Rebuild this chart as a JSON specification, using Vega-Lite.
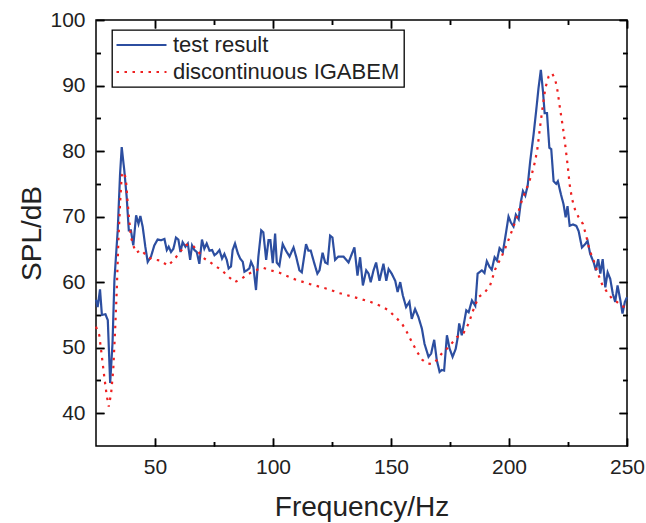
{
"$schema":"https://vega.github.io/schema/vega-lite/v6.json",
"width":531,"height":426,
"autosize":{"type":"none"},
"padding":{"left":96,"top":20,"right":19,"bottom":77},
"background":"white",
"data":{"values":[
{"s":"test result","f":25,"spl":57.3},{"s":"test result","f":25.7,"spl":56.2},{"s":"test result","f":26.7,"spl":58.9},{"s":"test result","f":27.5,"spl":55},{"s":"test result","f":29,"spl":55.1},{"s":"test result","f":30,"spl":54.2},{"s":"test result","f":31,"spl":44.6},{"s":"test result","f":32,"spl":50.7},{"s":"test result","f":32.8,"spl":60.3},{"s":"test result","f":34.2,"spl":67.9},{"s":"test result","f":35.2,"spl":76.5},{"s":"test result","f":35.9,"spl":80.6},{"s":"test result","f":37,"spl":77},{"s":"test result","f":38,"spl":73},{"s":"test result","f":38.9,"spl":67.9},{"s":"test result","f":39.8,"spl":67.9},{"s":"test result","f":40.8,"spl":65.6},{"s":"test result","f":42,"spl":70.2},{"s":"test result","f":43,"spl":68.9},{"s":"test result","f":43.8,"spl":70.1},{"s":"test result","f":44.8,"spl":68.4},{"s":"test result","f":45.9,"spl":65.4},{"s":"test result","f":46.9,"spl":63.1},{"s":"test result","f":48.3,"spl":63.9},{"s":"test result","f":49.7,"spl":65.6},{"s":"test result","f":51.1,"spl":66.5},{"s":"test result","f":52.6,"spl":66.4},{"s":"test result","f":54,"spl":66.6},{"s":"test result","f":55,"spl":64.9},{"s":"test result","f":55.8,"spl":65.4},{"s":"test result","f":56.8,"spl":64.6},{"s":"test result","f":57.8,"spl":65.1},{"s":"test result","f":58.9,"spl":66.8},{"s":"test result","f":59.9,"spl":66.5},{"s":"test result","f":60.8,"spl":64.6},{"s":"test result","f":61.7,"spl":66.1},{"s":"test result","f":62.9,"spl":65.4},{"s":"test result","f":63.9,"spl":65.9},{"s":"test result","f":64.9,"spl":63.4},{"s":"test result","f":65.7,"spl":65.6},{"s":"test result","f":66.7,"spl":64.9},{"s":"test result","f":67.7,"spl":64.6},{"s":"test result","f":68.8,"spl":62.8},{"s":"test result","f":69.9,"spl":66.5},{"s":"test result","f":70.9,"spl":65.1},{"s":"test result","f":71.9,"spl":65.9},{"s":"test result","f":73.1,"spl":64.8},{"s":"test result","f":74.2,"spl":64.9},{"s":"test result","f":75.2,"spl":64.1},{"s":"test result","f":76.2,"spl":64.4},{"s":"test result","f":77.3,"spl":64.9},{"s":"test result","f":78.4,"spl":63.6},{"s":"test result","f":79.4,"spl":64.3},{"s":"test result","f":80.4,"spl":63.4},{"s":"test result","f":81.2,"spl":62.1},{"s":"test result","f":82.2,"spl":62.4},{"s":"test result","f":82.9,"spl":64.9},{"s":"test result","f":83.9,"spl":65.9},{"s":"test result","f":85.1,"spl":64.4},{"s":"test result","f":86.1,"spl":63.6},{"s":"test result","f":87.2,"spl":63.1},{"s":"test result","f":87.9,"spl":61.6},{"s":"test result","f":88.9,"spl":61.8},{"s":"test result","f":90,"spl":62.1},{"s":"test result","f":90.7,"spl":63.1},{"s":"test result","f":91.7,"spl":62.3},{"s":"test result","f":92.8,"spl":58.8},{"s":"test result","f":93.8,"spl":63.9},{"s":"test result","f":95,"spl":67.9},{"s":"test result","f":95.9,"spl":67.6},{"s":"test result","f":97.1,"spl":63.4},{"s":"test result","f":98.1,"spl":66.4},{"s":"test result","f":98.9,"spl":66.4},{"s":"test result","f":99.9,"spl":62.9},{"s":"test result","f":100.9,"spl":67.4},{"s":"test result","f":101.6,"spl":63},{"s":"test result","f":102.7,"spl":62.5},{"s":"test result","f":104.1,"spl":65.8},{"s":"test result","f":105.5,"spl":64.8},{"s":"test result","f":107,"spl":63.9},{"s":"test result","f":108.7,"spl":65.3},{"s":"test result","f":109.8,"spl":63.9},{"s":"test result","f":111.2,"spl":61.8},{"s":"test result","f":112.2,"spl":61.5},{"s":"test result","f":114,"spl":65.8},{"s":"test result","f":115,"spl":64.8},{"s":"test result","f":116,"spl":64.8},{"s":"test result","f":117.4,"spl":63},{"s":"test result","f":118.8,"spl":61.3},{"s":"test result","f":119.7,"spl":61.8},{"s":"test result","f":121,"spl":64.5},{"s":"test result","f":122.1,"spl":63},{"s":"test result","f":123.1,"spl":62.8},{"s":"test result","f":124.2,"spl":67.1},{"s":"test result","f":125.2,"spl":66.8},{"s":"test result","f":126.3,"spl":63.4},{"s":"test result","f":127.7,"spl":63.9},{"s":"test result","f":129.9,"spl":63.9},{"s":"test result","f":132,"spl":63},{"s":"test result","f":133.4,"spl":64.3},{"s":"test result","f":134.5,"spl":65.3},{"s":"test result","f":135.8,"spl":61},{"s":"test result","f":136.9,"spl":63.8},{"s":"test result","f":138.1,"spl":59.5},{"s":"test result","f":139.5,"spl":61.8},{"s":"test result","f":140.5,"spl":61.3},{"s":"test result","f":141.4,"spl":60},{"s":"test result","f":142.6,"spl":61.8},{"s":"test result","f":143.7,"spl":63},{"s":"test result","f":145.1,"spl":60.2},{"s":"test result","f":146.8,"spl":62.8},{"s":"test result","f":148,"spl":60.2},{"s":"test result","f":149,"spl":62},{"s":"test result","f":150.3,"spl":61.3},{"s":"test result","f":151.8,"spl":60.2},{"s":"test result","f":152.8,"spl":58.5},{"s":"test result","f":153.9,"spl":60},{"s":"test result","f":155,"spl":58},{"s":"test result","f":156.4,"spl":56.2},{"s":"test result","f":157.8,"spl":57},{"s":"test result","f":158.8,"spl":54.4},{"s":"test result","f":160.2,"spl":55.9},{"s":"test result","f":161.6,"spl":54.7},{"s":"test result","f":163.1,"spl":52.9},{"s":"test result","f":164.2,"spl":50.6},{"s":"test result","f":165.9,"spl":48.6},{"s":"test result","f":167,"spl":49.1},{"s":"test result","f":168.3,"spl":51.2},{"s":"test result","f":169.4,"spl":48.1},{"s":"test result","f":170.6,"spl":46.3},{"s":"test result","f":171.5,"spl":46.6},{"s":"test result","f":172.5,"spl":46.5},{"s":"test result","f":173.7,"spl":51.9},{"s":"test result","f":174.8,"spl":49.9},{"s":"test result","f":176.1,"spl":48.6},{"s":"test result","f":177.4,"spl":49.8},{"s":"test result","f":178.2,"spl":51.4},{"s":"test result","f":178.9,"spl":53.7},{"s":"test result","f":180,"spl":51.9},{"s":"test result","f":181.9,"spl":55.7},{"s":"test result","f":182.9,"spl":55.4},{"s":"test result","f":184.3,"spl":57.2},{"s":"test result","f":185.7,"spl":56.4},{"s":"test result","f":186.7,"spl":61.3},{"s":"test result","f":188.5,"spl":61.8},{"s":"test result","f":189.6,"spl":61.4},{"s":"test result","f":190.6,"spl":63.2},{"s":"test result","f":191.8,"spl":62.3},{"s":"test result","f":192.7,"spl":61.9},{"s":"test result","f":193.9,"spl":63.8},{"s":"test result","f":194.9,"spl":63.3},{"s":"test result","f":196,"spl":65.2},{"s":"test result","f":197.4,"spl":64.6},{"s":"test result","f":198.4,"spl":66.8},{"s":"test result","f":199.8,"spl":70},{"s":"test result","f":200.8,"spl":69.1},{"s":"test result","f":201.9,"spl":68.5},{"s":"test result","f":202.9,"spl":70.3},{"s":"test result","f":204.1,"spl":69.6},{"s":"test result","f":205,"spl":72.2},{"s":"test result","f":205.9,"spl":73.9},{"s":"test result","f":206.9,"spl":73.2},{"s":"test result","f":207.9,"spl":74.7},{"s":"test result","f":209,"spl":78.5},{"s":"test result","f":210.4,"spl":82.5},{"s":"test result","f":211.5,"spl":86.1},{"s":"test result","f":212.5,"spl":89.6},{"s":"test result","f":213.5,"spl":92.4},{"s":"test result","f":214.4,"spl":89.1},{"s":"test result","f":215.1,"spl":85.8},{"s":"test result","f":216.1,"spl":85.8},{"s":"test result","f":217.1,"spl":80.5},{"s":"test result","f":217.9,"spl":80.3},{"s":"test result","f":218.9,"spl":75.4},{"s":"test result","f":220,"spl":75},{"s":"test result","f":220.7,"spl":75.4},{"s":"test result","f":222,"spl":73.4},{"s":"test result","f":223.1,"spl":71.9},{"s":"test result","f":224,"spl":69.9},{"s":"test result","f":224.8,"spl":71.6},{"s":"test result","f":225.7,"spl":68.6},{"s":"test result","f":227.1,"spl":68.8},{"s":"test result","f":228.5,"spl":68.6},{"s":"test result","f":229.5,"spl":67.8},{"s":"test result","f":230.9,"spl":65.3},{"s":"test result","f":232.3,"spl":65.8},{"s":"test result","f":233.3,"spl":66.3},{"s":"test result","f":234.4,"spl":64.3},{"s":"test result","f":235.9,"spl":63},{"s":"test result","f":236.8,"spl":61.8},{"s":"test result","f":237.8,"spl":63.5},{"s":"test result","f":238.7,"spl":61.3},{"s":"test result","f":239.7,"spl":63.5},{"s":"test result","f":240.8,"spl":59.2},{"s":"test result","f":241.8,"spl":61.5},{"s":"test result","f":242.9,"spl":60.5},{"s":"test result","f":244,"spl":58.2},{"s":"test result","f":245,"spl":57},{"s":"test result","f":246,"spl":59.5},{"s":"test result","f":247.2,"spl":57.2},{"s":"test result","f":248.1,"spl":55.2},{"s":"test result","f":249.1,"spl":57},{"s":"test result","f":250,"spl":57.7},
{"s":"discontinuous IGABEM","f":25,"spl":53.2},{"s":"discontinuous IGABEM","f":26.4,"spl":51.9},{"s":"discontinuous IGABEM","f":27.5,"spl":48.6},{"s":"discontinuous IGABEM","f":28.5,"spl":45.6},{"s":"discontinuous IGABEM","f":29.5,"spl":42.8},{"s":"discontinuous IGABEM","f":30.4,"spl":41},{"s":"discontinuous IGABEM","f":31.4,"spl":43},{"s":"discontinuous IGABEM","f":32.3,"spl":46.6},{"s":"discontinuous IGABEM","f":33.1,"spl":52.7},{"s":"discontinuous IGABEM","f":33.8,"spl":58.8},{"s":"discontinuous IGABEM","f":34.5,"spl":66.4},{"s":"discontinuous IGABEM","f":35.2,"spl":72},{"s":"discontinuous IGABEM","f":35.9,"spl":76.3},{"s":"discontinuous IGABEM","f":37,"spl":76.8},{"s":"discontinuous IGABEM","f":37.7,"spl":75.5},{"s":"discontinuous IGABEM","f":38.4,"spl":72.2},{"s":"discontinuous IGABEM","f":39.1,"spl":69.4},{"s":"discontinuous IGABEM","f":39.8,"spl":66.9},{"s":"discontinuous IGABEM","f":40.8,"spl":65.6},{"s":"discontinuous IGABEM","f":42,"spl":64.5},{"s":"discontinuous IGABEM","f":44.2,"spl":64.9},{"s":"discontinuous IGABEM","f":46.2,"spl":64.1},{"s":"discontinuous IGABEM","f":48.6,"spl":63.5},{"s":"discontinuous IGABEM","f":52.3,"spl":63.3},{"s":"discontinuous IGABEM","f":55.5,"spl":62.5},{"s":"discontinuous IGABEM","f":58.3,"spl":63.5},{"s":"discontinuous IGABEM","f":60.5,"spl":64.6},{"s":"discontinuous IGABEM","f":63.3,"spl":65.7},{"s":"discontinuous IGABEM","f":66,"spl":65.6},{"s":"discontinuous IGABEM","f":68,"spl":64.8},{"s":"discontinuous IGABEM","f":70.5,"spl":63.7},{"s":"discontinuous IGABEM","f":73.1,"spl":63.1},{"s":"discontinuous IGABEM","f":75.8,"spl":62.4},{"s":"discontinuous IGABEM","f":78.4,"spl":61.8},{"s":"discontinuous IGABEM","f":80.6,"spl":61},{"s":"discontinuous IGABEM","f":83.8,"spl":60},{"s":"discontinuous IGABEM","f":87,"spl":60.6},{"s":"discontinuous IGABEM","f":89.3,"spl":61.2},{"s":"discontinuous IGABEM","f":92.5,"spl":61.8},{"s":"discontinuous IGABEM","f":95.8,"spl":62.2},{"s":"discontinuous IGABEM","f":99.1,"spl":61.8},{"s":"discontinuous IGABEM","f":103,"spl":61.4},{"s":"discontinuous IGABEM","f":108.7,"spl":60.5},{"s":"discontinuous IGABEM","f":115.7,"spl":59.7},{"s":"discontinuous IGABEM","f":122.8,"spl":59},{"s":"discontinuous IGABEM","f":128.4,"spl":58.3},{"s":"discontinuous IGABEM","f":135.5,"spl":57.6},{"s":"discontinuous IGABEM","f":141.2,"spl":57},{"s":"discontinuous IGABEM","f":145.4,"spl":56.4},{"s":"discontinuous IGABEM","f":149,"spl":55.7},{"s":"discontinuous IGABEM","f":151.8,"spl":54.7},{"s":"discontinuous IGABEM","f":154.6,"spl":53.7},{"s":"discontinuous IGABEM","f":156.7,"spl":52.4},{"s":"discontinuous IGABEM","f":158.8,"spl":50.9},{"s":"discontinuous IGABEM","f":161,"spl":49.4},{"s":"discontinuous IGABEM","f":163.1,"spl":48.2},{"s":"discontinuous IGABEM","f":165.2,"spl":47.6},{"s":"discontinuous IGABEM","f":167.3,"spl":47.5},{"s":"discontinuous IGABEM","f":169.4,"spl":48.1},{"s":"discontinuous IGABEM","f":171.5,"spl":49.1},{"s":"discontinuous IGABEM","f":174.4,"spl":50.1},{"s":"discontinuous IGABEM","f":177.9,"spl":51.6},{"s":"discontinuous IGABEM","f":180.7,"spl":52.2},{"s":"discontinuous IGABEM","f":182.9,"spl":53.7},{"s":"discontinuous IGABEM","f":185,"spl":55.9},{"s":"discontinuous IGABEM","f":187.1,"spl":57.7},{"s":"discontinuous IGABEM","f":189.9,"spl":58.5},{"s":"discontinuous IGABEM","f":192,"spl":59.5},{"s":"discontinuous IGABEM","f":194.2,"spl":62},{"s":"discontinuous IGABEM","f":197,"spl":64},{"s":"discontinuous IGABEM","f":199.1,"spl":65.8},{"s":"discontinuous IGABEM","f":201.2,"spl":67.8},{"s":"discontinuous IGABEM","f":203.3,"spl":69.9},{"s":"discontinuous IGABEM","f":205.5,"spl":72.5},{"s":"discontinuous IGABEM","f":207.6,"spl":74.4},{"s":"discontinuous IGABEM","f":209.7,"spl":76.5},{"s":"discontinuous IGABEM","f":211.1,"spl":78.5},{"s":"discontinuous IGABEM","f":212.1,"spl":80.5},{"s":"discontinuous IGABEM","f":213.2,"spl":83.8},{"s":"discontinuous IGABEM","f":214.4,"spl":87.1},{"s":"discontinuous IGABEM","f":215.4,"spl":89.6},{"s":"discontinuous IGABEM","f":216.8,"spl":91.4},{"s":"discontinuous IGABEM","f":218.2,"spl":91.9},{"s":"discontinuous IGABEM","f":219.6,"spl":90.9},{"s":"discontinuous IGABEM","f":220.6,"spl":89.1},{"s":"discontinuous IGABEM","f":221.7,"spl":86.3},{"s":"discontinuous IGABEM","f":222.9,"spl":83.5},{"s":"discontinuous IGABEM","f":223.8,"spl":81},{"s":"discontinuous IGABEM","f":224.8,"spl":78},{"s":"discontinuous IGABEM","f":225.7,"spl":74.9},{"s":"discontinuous IGABEM","f":226.7,"spl":72.7},{"s":"discontinuous IGABEM","f":228.1,"spl":70.9},{"s":"discontinuous IGABEM","f":229.5,"spl":69.9},{"s":"discontinuous IGABEM","f":231.3,"spl":68.9},{"s":"discontinuous IGABEM","f":232.7,"spl":67.1},{"s":"discontinuous IGABEM","f":234.2,"spl":64.8},{"s":"discontinuous IGABEM","f":235.9,"spl":63.3},{"s":"discontinuous IGABEM","f":237.5,"spl":61.5},{"s":"discontinuous IGABEM","f":239.4,"spl":59.7},{"s":"discontinuous IGABEM","f":241.5,"spl":58.5},{"s":"discontinuous IGABEM","f":243.6,"spl":57.5},{"s":"discontinuous IGABEM","f":245.7,"spl":57},{"s":"discontinuous IGABEM","f":247.9,"spl":56.3},{"s":"discontinuous IGABEM","f":249.3,"spl":56.2}
]},
"config":{
"view":{"stroke":"#000","strokeWidth":1.5},
"axis":{"domain":false,"labelFont":"Liberation Sans","labelFontSize":21,"labelColor":"#222","titleFont":"Liberation Sans","titleFontSize":28,"titleColor":"#222","titleFontWeight":"normal"},
"legend":{"orient":"none","legendX":16,"legendY":10,"strokeColor":"#000","strokeWidth":1.3,"fillColor":"white","padding":4,"rowPadding":5,"symbolType":"M-2.5,0H2.5","symbolSize":400,"symbolStrokeWidth":2,"symbolOffset":14.5,"labelOffset":20.5,"labelFont":"Liberation Sans","labelFontSize":22,"labelColor":"#222","labelLimit":400}
},
"resolve":{"axis":{"x":"independent","y":"independent"}},
"layer":[
{"mark":{"type":"line","strokeWidth":2.2},
 "encoding":{
  "x":{"field":"f","type":"quantitative","scale":{"domain":[25,250],"nice":false,"zero":false},
   "axis":{"orient":"bottom","values":[50,75,100,125,150,175,200,225,250],"grid":true,"gridColor":"#000","gridWidth":1.5,"gridOpacity":1,"gridDash":{"condition":{"test":"datum.value % 50 === 0","value":[8,410,8,2000]},"value":[4.5,417,4.5,2000]},"ticks":true,"tickColor":"#000","tickWidth":1.5,"tickSize":{"condition":{"test":"datum.value % 50 === 0","value":-8},"value":-4.5},"labelExpr":"datum.value % 50 === 0 ? datum.label : ''","labelPadding":35,"labelBaseline":"alphabetic","labelFlush":false,"title":"Frequency/Hz","titleX":265.5,"titleY":69,"titleBaseline":"alphabetic"}},
  "y":{"field":"spl","type":"quantitative","scale":{"domain":[35,100],"nice":false,"zero":false},
   "axis":{"orient":"left","values":[40,45,50,55,60,65,70,75,80,85,90,95,100],"grid":true,"gridColor":"#000","gridWidth":1.5,"gridOpacity":1,"gridDash":{"condition":{"test":"datum.value % 10 === 0","value":[8,515,8,2000]},"value":[4.5,522,4.5,2000]},"ticks":true,"tickColor":"#000","tickWidth":1.5,"tickSize":{"condition":{"test":"datum.value % 10 === 0","value":-8},"value":-4.5},"labelExpr":"datum.value % 10 === 0 ? datum.label : ''","labelPadding":19,"labelBaseline":"middle","title":"SPL/dB","titleX":-56,"titleY":213,"titleBaseline":"alphabetic","titleAngle":-90}},
  "color":{"field":"s","type":"nominal","scale":{"domain":["test result","discontinuous IGABEM"],"range":["#2c4ea0","#ee2020"]},"legend":{"title":null}},
  "strokeDash":{"field":"s","type":"nominal","scale":{"domain":["test result","discontinuous IGABEM"],"range":[[1,0],[2.5,5.5]]},"legend":{"title":null}}
 }},
{"mark":{"type":"point","opacity":0},
 "encoding":{
  "x":{"field":"f","type":"quantitative","scale":{"domain":[25,250],"nice":false,"zero":false},
   "axis":{"orient":"top","grid":false,"values":[50,75,100,125,150,175,200,225,250],"ticks":true,"tickColor":"#000","tickWidth":1.5,"tickSize":{"condition":{"test":"datum.value % 50 === 0","value":-8},"value":-4.5},"labels":false,"title":null}},
  "y":{"field":"spl","type":"quantitative","scale":{"domain":[35,100],"nice":false,"zero":false},
   "axis":{"orient":"right","grid":false,"values":[40,45,50,55,60,65,70,75,80,85,90,95,100],"ticks":true,"tickColor":"#000","tickWidth":1.5,"tickSize":{"condition":{"test":"datum.value % 10 === 0","value":-8},"value":-4.5},"labels":false,"title":null}}
 }}
]
}
